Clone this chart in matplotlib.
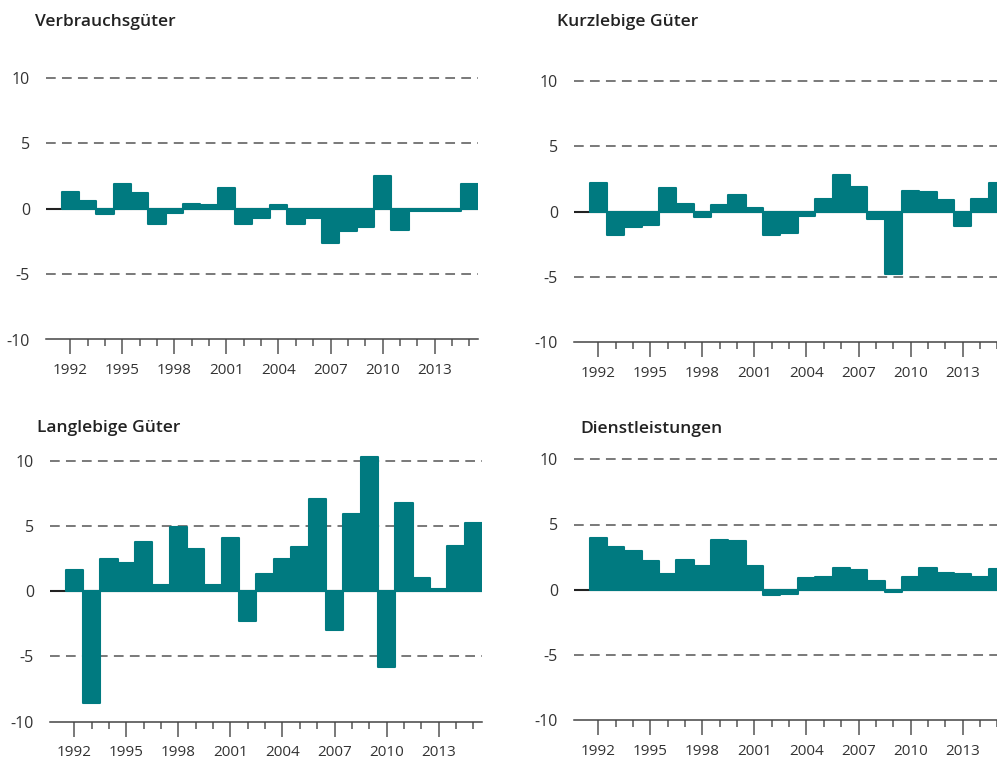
import numpy as np
import matplotlib
matplotlib.use("Agg")
import matplotlib.pyplot as plt
from matplotlib.ticker import FixedLocator, FuncFormatter

plt.rcParams['font.family'] = ['Open Sans', 'DejaVu Sans']
plt.rcParams['lines.scale_dashes'] = False

# Data: annual changes (%), 1992-2015
years = np.arange(1992, 2016)

verbrauchsgueter = [1.3, 0.6, -0.4, 1.9, 1.2, -1.2, -0.3, 0.4, 0.3, 1.6, -1.2, -0.7,
                    0.3, -1.2, -0.7, -2.6, -1.7, -1.4, 2.5, -1.6, -0.2, -0.2, -0.2, 1.9]
kurzlebige = [2.2, -1.8, -1.2, -1.0, 1.8, 0.6, -0.4, 0.5, 1.3, 0.3, -1.8, -1.6,
              -0.3, 1.0, 2.8, 1.9, -0.6, -4.8, 1.6, 1.5, 0.9, -1.1, 1.0, 2.2]
langlebige = [1.6, -8.6, 2.5, 2.2, 3.8, 0.5, 4.9, 3.2, 0.5, 4.1, -2.3, 1.3,
              2.5, 3.4, 7.1, -3.0, 5.9, 10.3, -5.8, 6.8, 1.0, 0.2, 3.5, 5.2]
dienstleistungen = [4.0, 3.3, 3.0, 2.2, 1.2, 2.3, 1.8, 3.8, 3.7, 1.8, -0.4, -0.3,
                    0.9, 1.0, 1.7, 1.5, 0.7, -0.2, 1.0, 1.7, 1.3, 1.2, 1.0, 1.6]

titles = ['Verbrauchsgüter', 'Kurzlebige Güter', 'Langlebige Güter', 'Dienstleistungen']
series = [verbrauchsgueter, kurzlebige, langlebige, dienstleistungen]
major_years = [1992, 1995, 1998, 2001, 2004, 2007, 2010, 2013]
y_ticks = [-10, -5, 0, 5, 10]

TEAL = '#007A80'
W, H = 997, 762

# axes rectangles in pixels: left, top (at y=11), right, bottom (at y=-10)
boxes = [(46, 64.9, 478, 339.5),
         (574, 68.3, 1006, 342.0),
         (50, 447.7, 482, 721.7),
         (574, 446.3, 1006, 720.0)]
# title positions: x left, baseline y (pixels)
title_pos = [(35, 26), (557, 26), (37, 432.5), (580, 433.3)]

fig = plt.figure(figsize=(W / 100, H / 100), dpi=100)

for (l, t, r, b), title, vals, (tx, ty) in zip(boxes, titles, series, title_pos):
    ax = fig.add_axes([l / W, 1 - b / H, (r - l) / W, (b - t) / H])
    ax.set_xlim(1990.6, 2015.5)
    ax.set_ylim(-10, 11)

    # dashed grid lines
    for gy in [10, 5, -5]:
        ax.axhline(gy, color='#555555', lw=1.1, linestyle=(0, (7.0, 4.5)), zorder=0)
    # zero line
    ax.axhline(0, color='#222222', lw=1.5, zorder=1)

    ax.bar(years, vals, width=1.0, color=TEAL, edgecolor=TEAL, linewidth=1.5,
           joinstyle='round', zorder=2)

    for s in ['top', 'right', 'left']:
        ax.spines[s].set_visible(False)
    ax.spines['bottom'].set_color('#444444')
    ax.spines['bottom'].set_linewidth(1.1)

    ax.xaxis.set_major_locator(FixedLocator(major_years))
    ax.xaxis.set_minor_locator(FixedLocator(list(years)))
    ax.tick_params(axis='x', which='major', length=11, width=1.1, color='#555555',
                   labelsize=11, labelcolor='#333333', pad=6)
    ax.tick_params(axis='x', which='minor', length=5, width=1.1, color='#555555')
    ax.yaxis.set_major_locator(FixedLocator(y_ticks))
    ax.yaxis.set_major_formatter(FuncFormatter(lambda v, p: f'{int(v)}'))
    ax.tick_params(axis='y', length=0, pad=11.5, labelsize=11.5, labelcolor='#333333')

    fig.text(tx / W, 1 - ty / H, title, fontsize=12.5, fontweight='semibold',
             color='#222222', ha='left', va='baseline')

fig.savefig('out.png', dpi=100)
